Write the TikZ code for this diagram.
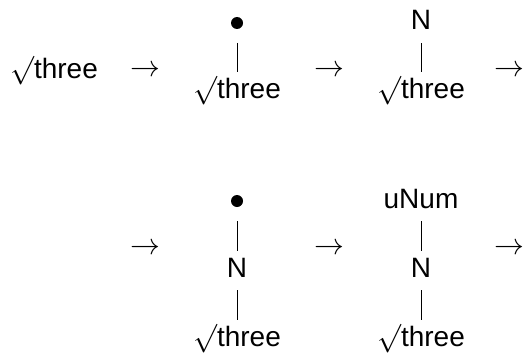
\documentclass[tikz,border=0pt]{standalone}
\usepackage{graphicx}
\usepackage{fontspec}
\setmainfont{Liberation Sans}
\begin{document}
\begin{tikzpicture}[x=1pt,y=-1pt,
  lbl/.style={font=\fontsize{28}{34}\selectfont, inner sep=0pt,
    text height=20pt, text depth=6pt, anchor=base},
  dot/.style={circle, fill=black, inner sep=0pt, minimum size=12pt},
  arr/.style={font=\fontsize{28}{34}\selectfont, inner sep=0pt, scale=1.2, transform shape},
  edge/.style={line width=0.8pt, shorten <=7pt, shorten >=6pt},
  dotedge/.style={edge, shorten <=20pt}]
\useasboundingbox (0,0) rectangle (526,353);
\newcommand{\rt}{\scalebox{1.15}{$\surd$}three}
% first row
\node[lbl] (r0) at (54,78) {\rt};
\node[arr] (a1) at (145,71) {$\rightarrow$};
\node[dot] (t1) at (237,23) {};
\node[lbl] (r1) at (237,98) {\rt};
\node[arr] (a2) at (329,71) {$\rightarrow$};
\node[lbl] (t2) at (421,30) {N};
\node[lbl] (r2) at (421,98) {\rt};
\node[arr] (a3) at (509,71) {$\rightarrow$};
\draw[dotedge] (t1.center) -- (r1.north);
\draw[edge] (t2.south) -- (r2.north);
% second row
\node[arr] (a4) at (145,249) {$\rightarrow$};
\node[dot] (t3) at (237,201) {};
\node[lbl] (n3) at (237,277) {N};
\node[lbl] (r3) at (237,346) {\rt};
\node[arr] (a5) at (329,249) {$\rightarrow$};
\node[lbl] (t4) at (421,208) {uNum};
\node[lbl] (n4) at (421,277) {N};
\node[lbl] (r4) at (421,346) {\rt};
\node[arr] (a6) at (509,249) {$\rightarrow$};
\draw[dotedge] (t3.center) -- (n3.north);
\draw[edge] (n3.south) -- (r3.north);
\draw[edge] (t4.south) -- (n4.north);
\draw[edge] (n4.south) -- (r4.north);
\end{tikzpicture}
\end{document}
